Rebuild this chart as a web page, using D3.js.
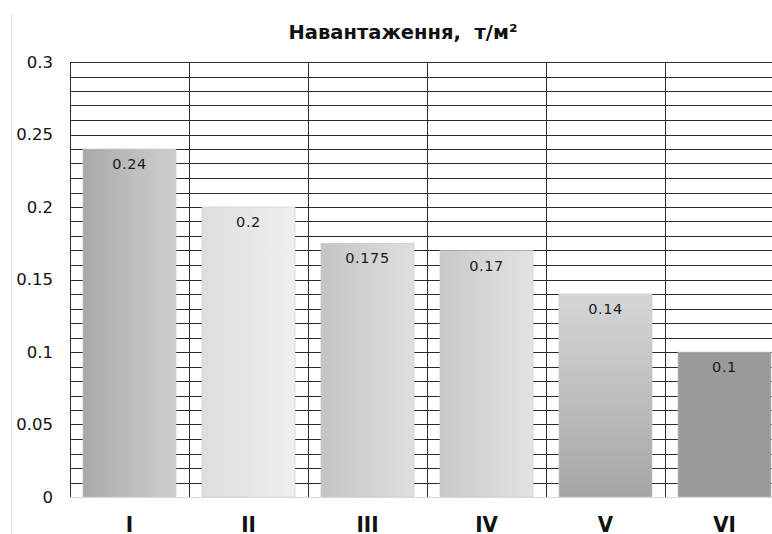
<!DOCTYPE html>
<html>
<head>
<meta charset="utf-8">
<title>Навантаження</title>
<script src="https://cdn.jsdelivr.net/npm/d3@7"></script>
<style>
  body { margin: 0; background: #fff; }
  svg { display: block; }
  .ytick text { font-family: "DejaVu Sans", sans-serif; font-size: 16.5px; fill: #111; }
  .xtick text { font-family: "DejaVu Sans", sans-serif; font-weight: bold; font-size: 22px; font-stretch: condensed; fill: #111; }
</style>
</head>
<body>
<script>
const categories = ["I", "II", "III", "IV", "V", "VI"];
const values = [0.24, 0.2, 0.175, 0.17, 0.14, 0.1];
const yTicks = [0, 0.05, 0.1, 0.15, 0.2, 0.25, 0.3];
const titleText = "Навантаження,  т/м²";

const width = 772, height = 534;
const plotLeft = 70, plotRight = 784, plotTop = 62, plotBottom = 497;

const svg = d3.select("body").append("svg")
  .attr("width", width)
  .attr("height", height);

// gradients for the bars
const defs = svg.append("defs");
const grads = [
  { id: "g0", dir: "h", stops: ["#a8a8a8", "#cfcfcf"] },
  { id: "g1", dir: "h", stops: ["#dedede", "#efefef"] },
  { id: "g2", dir: "h", stops: ["#c4c4c4", "#dfdfdf"] },
  { id: "g3", dir: "h", stops: ["#c8c8c8", "#e3e3e3"] },
  { id: "g4", dir: "v", stops: ["#d6d6d6", "#a6a6a6"] },
  { id: "g5", dir: "h", stops: ["#9a9a9a", "#9a9a9a"] }
];
grads.forEach(function(g) {
  const lg = defs.append("linearGradient").attr("id", g.id)
    .attr("x1", 0).attr("y1", 0)
    .attr("x2", g.dir === "h" ? 1 : 0)
    .attr("y2", g.dir === "h" ? 0 : 1);
  lg.append("stop").attr("offset", "0%").attr("stop-color", g.stops[0]);
  lg.append("stop").attr("offset", "100%").attr("stop-color", g.stops[1]);
});

const xScale = d3.scaleBand()
  .domain(categories)
  .range([plotLeft, plotRight])
  .paddingInner(0.218)
  .paddingOuter(0.109);

const yScale = d3.scaleLinear()
  .domain([0, 0.3])
  .range([plotBottom, plotTop]);

// light frame line on the left
svg.append("line")
  .attr("x1", 11.5).attr("x2", 11.5)
  .attr("y1", 14).attr("y2", height)
  .attr("stroke", "#e2e2e2");

// title
svg.append("text")
  .attr("x", 403).attr("y", 39)
  .attr("text-anchor", "middle")
  .attr("font-family", "DejaVu Sans, sans-serif")
  .attr("font-weight", "bold")
  .attr("font-size", "19.5px")
  .attr("fill", "#111")
  .style("white-space", "pre")
  .text(titleText);

// horizontal gridlines every 0.01
const minor = d3.range(1, 31).map(function(i) { return i / 100; });
svg.append("g")
  .selectAll("line")
  .data(minor)
  .enter()
  .append("line")
  .attr("x1", plotLeft).attr("x2", plotRight)
  .attr("y1", function(d) { return Math.round(yScale(d)) + 0.5; })
  .attr("y2", function(d) { return Math.round(yScale(d)) + 0.5; })
  .attr("stroke", "#2a2a2a")
  .attr("stroke-width", 1);

// vertical gridlines at category boundaries
const step = xScale.step();
svg.append("g")
  .selectAll("line")
  .data(categories)
  .enter()
  .append("line")
  .attr("x1", function(d) { return Math.round(xScale(d) - step * xScale.paddingInner() / 2 + step) + 0.5; })
  .attr("x2", function(d) { return Math.round(xScale(d) - step * xScale.paddingInner() / 2 + step) + 0.5; })
  .attr("y1", plotTop).attr("y2", plotBottom)
  .attr("stroke", "#2a2a2a");

// left axis line
svg.append("line")
  .attr("x1", plotLeft + 0.5).attr("x2", plotLeft + 0.5)
  .attr("y1", plotTop).attr("y2", plotBottom)
  .attr("stroke", "#2a2a2a");

// bars
svg.append("g")
  .selectAll("rect")
  .data(values)
  .enter()
  .append("rect")
  .attr("x", function(d, i) { return xScale(categories[i]); })
  .attr("y", function(d) { return yScale(d); })
  .attr("width", xScale.bandwidth())
  .attr("height", function(d) { return plotBottom - yScale(d); })
  .attr("fill", function(d, i) { return "url(#" + grads[i].id + ")"; })
  .attr("stroke", "#c8c8c8")
  .attr("stroke-width", 0.6);

// bottom baseline
svg.append("line")
  .attr("x1", plotLeft).attr("x2", plotRight)
  .attr("y1", plotBottom + 0.5).attr("y2", plotBottom + 0.5)
  .attr("stroke", "#d8d8d8");

// value labels
svg.append("g")
  .selectAll("text")
  .data(values)
  .enter()
  .append("text")
  .attr("x", function(d, i) { return xScale(categories[i]) + xScale.bandwidth() / 2; })
  .attr("y", function(d) { return yScale(d) + 20; })
  .attr("text-anchor", "middle")
  .attr("font-family", "DejaVu Sans, sans-serif")
  .attr("font-size", "14.5px")
  .attr("letter-spacing", "0.6px")
  .attr("fill", "#1a1a1a")
  .text(function(d) { return d; });

// y axis
const yAxis = d3.axisLeft(yScale)
  .tickValues(yTicks)
  .tickSize(0)
  .tickPadding(17)
  .tickFormat(function(d) { return String(d); });

svg.append("g")
  .attr("class", "ytick")
  .attr("transform", "translate(" + plotLeft + ",0)")
  .call(yAxis)
  .call(function(g) { g.select(".domain").remove(); });

// x axis
const xAxis = d3.axisBottom(xScale)
  .tickSize(0)
  .tickPadding(19);

svg.append("g")
  .attr("class", "xtick")
  .attr("transform", "translate(0," + plotBottom + ")")
  .call(xAxis)
  .call(function(g) { g.select(".domain").remove(); });
</script>
</body>
</html>
